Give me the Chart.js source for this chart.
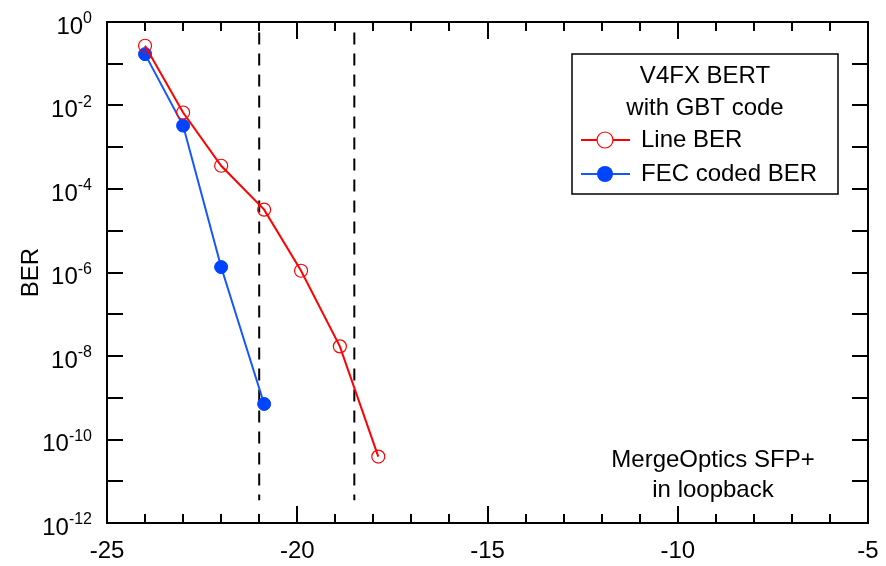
<!DOCTYPE html>
<html>
<head>
<meta charset="utf-8">
<script src="https://cdn.jsdelivr.net/npm/chart.js@4/dist/chart.umd.min.js"></script>
<style>
html,body{margin:0;padding:0;background:#fff;}
canvas{display:block;}
</style>
</head>
<body>
<canvas id="c" width="886" height="566"></canvas>
<script>
// ---- data ----
const lineX   = [-24, -23, -22, -20.87, -19.9, -18.88, -17.87];
const lineBER = [0.27, 6.8e-3, 3.6e-4, 3.2e-5, 1.1e-6, 1.7e-8, 3.9e-11];
const fecX    = [-24, -23, -22, -20.87];
const fecBER  = [0.17, 3.3e-3, 1.35e-6, 7.1e-10];
const thresholdX = [-21, -18.5];
const dashSpan = [0.56, 3.5e-12];
const xTickValues = [-25,-24,-23,-22,-21,-20,-19,-18,-17,-16,-15,-14,-13,-12,-11,-10,-9,-8,-7,-6,-5];
const yExponents = [0,-1,-2,-3,-4,-5,-6,-7,-8,-9,-10,-11,-12];
const legendTitle = ['V4FX BERT', 'with GBT code'];
const noteLines = ['MergeOptics SFP+', 'in loopback'];

const FONT = "'Liberation Sans', Arial, sans-serif";
const RED = '#ff0000';
const BLUE = '#0044ff';

const datasets = [
  { label:'Line BER', data: lineX.map((x,i)=>({x, y: lineBER[i]})), showLine:true,
    borderColor: RED, borderWidth: 2, pointStyle:'circle', pointRadius: 6.5,
    pointBorderColor: RED, pointBackgroundColor: 'rgba(255,255,255,0)', pointBorderWidth: 1.2 },
  { label:'FEC coded BER', data: fecX.map((x,i)=>({x, y: fecBER[i]})), showLine:true,
    borderColor: '#1456ff', borderWidth: 2, pointStyle:'circle', pointRadius: 6.5,
    pointBorderColor: BLUE, pointBackgroundColor: BLUE, pointBorderWidth: 1 }
];
thresholdX.forEach(tx => datasets.push({
  label:'threshold', data: dashSpan.map(y=>({x: tx, y})), showLine:true,
  borderColor:'#000', borderWidth:2, borderDash:[12,9], pointRadius:0
}));

const framePlugin = {
  id:'frame',
  afterDraw(chart){
    const ctx = chart.ctx, a = chart.chartArea;
    const xs = chart.scales.x, ys = chart.scales.y;
    ctx.save();
    ctx.strokeStyle = '#000'; ctx.lineWidth = 2; ctx.setLineDash([]);
    ctx.strokeRect(a.left, a.top, a.right-a.left, a.bottom-a.top);
    ctx.beginPath();
    xs.ticks.forEach(t => {
      const px = Math.round(xs.getPixelForValue(t.value));
      const len = (t.value % 5 === 0) ? 17 : 9;
      ctx.moveTo(px, a.bottom); ctx.lineTo(px, a.bottom - len);
      ctx.moveTo(px, a.top); ctx.lineTo(px, a.top + len);
    });
    ys.ticks.forEach(t => {
      const py = Math.round(ys.getPixelForValue(t.value));
      ctx.moveTo(a.left, py); ctx.lineTo(a.left + 16, py);
      ctx.moveTo(a.right, py); ctx.lineTo(a.right - 16, py);
    });
    ctx.stroke();

    // y tick labels: 10 with superscript exponent
    ctx.fillStyle = '#000';
    ys.ticks.forEach(t => {
      const e = Math.round(Math.log10(t.value));
      if (e % 2 !== 0) return;
      const py = ys.getPixelForValue(t.value);
      const exp = String(e);
      ctx.font = '16px ' + FONT;
      const ew = ctx.measureText(exp).width;
      const xr = a.left - 15;
      ctx.textAlign = 'right'; ctx.textBaseline = 'alphabetic';
      ctx.fillText(exp, xr, py + 1);
      ctx.font = '24px ' + FONT;
      ctx.textBaseline = 'middle';
      ctx.fillText('10', xr - ew, py + 5);
    });

    // legend box
    const L = 572, T = 54, R = 838, B = 194;
    ctx.fillStyle = '#fff';
    ctx.fillRect(L, T, R-L, B-T);
    ctx.lineWidth = 1.5;
    ctx.strokeRect(L, T, R-L, B-T);
    ctx.fillStyle = '#000';
    ctx.font = '24px ' + FONT;
    ctx.textAlign = 'center'; ctx.textBaseline = 'middle';
    legendTitle.forEach((s,i) => ctx.fillText(s, 705, 76 + i*32));
    const entries = chart.data.datasets.slice(0,2);
    entries.forEach((ds,i) => {
      const y = 140 + i*34;
      ctx.strokeStyle = ds.borderColor; ctx.lineWidth = 2;
      ctx.beginPath(); ctx.moveTo(581, y); ctx.lineTo(630, y); ctx.stroke();
      ctx.beginPath(); ctx.arc(605, y, 8, 0, Math.PI*2);
      if (i === 0) { ctx.fillStyle = '#fff'; ctx.fill(); ctx.lineWidth = 1.2; ctx.stroke(); }
      else { ctx.fillStyle = ds.pointBackgroundColor; ctx.fill(); }
      ctx.fillStyle = '#000';
      ctx.textAlign = 'left';
      ctx.fillText(ds.label, 641, y);
    });
    // annotation
    ctx.textAlign = 'center';
    noteLines.forEach((s,i) => ctx.fillText(s, 713, 460 + i*30));
    ctx.restore();
  }
};

new Chart(document.getElementById('c'), {
  type:'scatter',
  data:{ datasets },
  options:{
    responsive:false, animation:false, devicePixelRatio:1,
    layout:{ padding:{ left:0, top:22, right:18, bottom:0 } },
    plugins:{ legend:{display:false}, tooltip:{enabled:false} },
    scales:{
      x:{
        type:'linear', min:-25, max:-5,
        afterBuildTicks: s => { s.ticks = xTickValues.map(v=>({value:v})); },
        afterFit: s => { s.height = 43; s.paddingLeft = 0; s.paddingRight = 0; },
        grid:{ display:false, drawTicks:false },
        border:{ display:false },
        ticks:{ autoSkip:false, maxRotation:0, padding:14, color:'#000',
          font:{ family:FONT, size:24 },
          callback: v => (v % 5 === 0) ? String(v) : '' }
      },
      y:{
        type:'logarithmic', min:1e-12, max:1,
        afterBuildTicks: s => { s.ticks = yExponents.map(e=>({value: Math.pow(10,e)})); },
        afterFit: s => { s.width = 107; s.paddingTop = 0; s.paddingBottom = 0; },
        grid:{ display:false, drawTicks:false },
        border:{ display:false },
        title:{ display:true, text:'BER', color:'#000', font:{ family:FONT, size:24 }, padding:{top:17,bottom:0} },
        ticks:{ display:false }
      }
    }
  },
  plugins:[framePlugin]
});
</script>
</body>
</html>
